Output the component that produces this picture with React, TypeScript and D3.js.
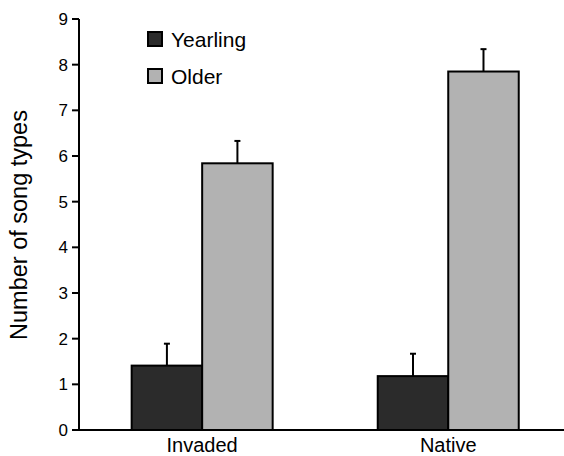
import React from 'react'
import * as d3 from 'd3'

const categories = ['Invaded', 'Native']
const series = ['Yearling', 'Older']
const seriesColors = ['#2b2b2b', '#b2b2b2']
const yearlingValues = [1.41, 1.18]
const yearlingErrors = [0.48, 0.49]
const olderValues = [5.84, 7.85]
const olderErrors = [0.49, 0.49]
const yTicks = [0, 1, 2, 3, 4, 5, 6, 7, 8, 9]

const values = [yearlingValues, olderValues]
const errors = [yearlingErrors, olderErrors]

export default function App() {
  const width = 564
  const height = 456
  const axisX = 79
  const axisY = 430

  const y = d3.scaleLinear().domain([0, 9]).range([axisY, 19])
  const x = d3.scaleBand<string>()
    .domain(categories)
    .range([axisX, 571.4])
    .paddingInner(0.427)
    .paddingOuter(0.214)
  const xs = d3.scaleBand<string>().domain(series).range([0, x.bandwidth()])

  const font = 'Helvetica, Arial, "Liberation Sans", sans-serif'

  return (
    <svg width={width} height={height} style={{position: 'absolute', left: 0, top: 0}}>
      {/* bars */}
      {categories.map((c, ci) => (
        <g key={c} transform={`translate(${x(c)},0)`}>
          {series.map((s, si) => {
            const v = values[si][ci]
            const e = errors[si][ci]
            const bx = xs(s)!
            const mid = bx + xs.bandwidth() / 2
            return (
              <g key={s}>
                <line x1={mid} x2={mid} y1={y(v)} y2={y(v + e)} stroke="#000" strokeWidth={2} />
                <line x1={mid - 3} x2={mid + 3} y1={y(v + e)} y2={y(v + e)} stroke="#000" strokeWidth={2} />
                <rect x={bx} y={y(v)} width={xs.bandwidth()} height={axisY - y(v)}
                  fill={seriesColors[si]} stroke="#000" strokeWidth={2} />
              </g>
            )
          })}
          <text x={x.bandwidth() / 2} y={451.5} textAnchor="middle" fontFamily={font} fontSize={20}>{c}</text>
        </g>
      ))}

      {/* axes */}
      <line x1={axisX} x2={axisX} y1={y(9)} y2={axisY} stroke="#000" strokeWidth={2} />
      <line x1={axisX - 1} x2={width} y1={axisY} y2={axisY} stroke="#000" strokeWidth={2} />
      {yTicks.map(t => (
        <g key={t} transform={`translate(0,${y(t)})`}>
          <line x1={axisX - 7} x2={axisX} stroke="#000" strokeWidth={2} />
          <text x={axisX - 11} dy="0.36em" textAnchor="end" fontFamily={font} fontSize={17}>{t}</text>
        </g>
      ))}
      <text transform={`translate(27,225) rotate(-90)`} textAnchor="middle"
        fontFamily={font} fontSize={23.5}>Number of song types</text>

      {/* legend */}
      {series.map((s, i) => (
        <g key={s} transform={`translate(148,${32 + i * 37})`}>
          <rect x={0} y={0} width={14} height={14} fill={seriesColors[i]} stroke="#000" strokeWidth={2} />
          <text x={23} y={14.5} fontFamily={font} fontSize={21}>{s}</text>
        </g>
      ))}
    </svg>
  )
}
